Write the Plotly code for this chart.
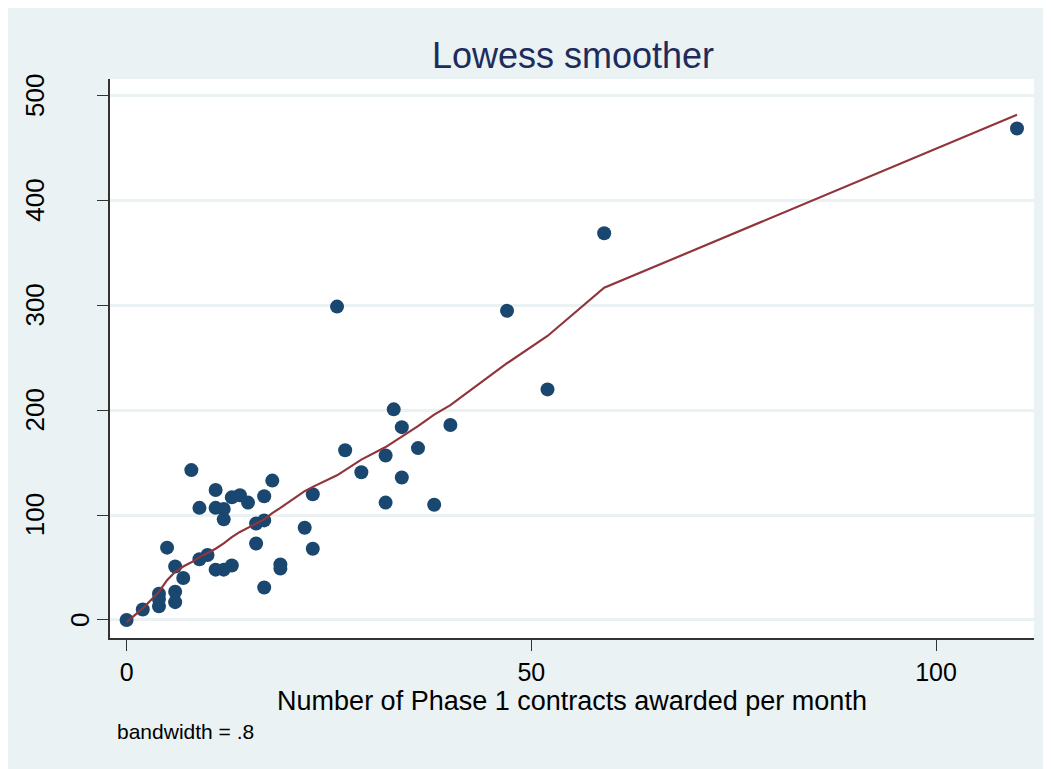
import plotly.graph_objects as go

# scatter points
contracts = [0, 2, 4, 4, 4, 5, 6, 6, 6, 7, 8, 9, 9, 10, 11, 11, 11, 12, 12, 12,
             13, 13, 14, 15, 16, 16, 17, 17, 17, 18, 19, 19, 22, 23, 23, 26, 27,
             29, 32, 32, 33, 34, 34, 36, 38, 40, 47, 52, 59, 110]
awards = [0, 10, 25, 20, 13, 69, 27, 17, 51, 40, 143, 107, 58, 62, 124, 107, 48,
          106, 96, 48, 117, 52, 119, 112, 92, 73, 118, 95, 31, 133, 53, 49, 88,
          120, 68, 299, 162, 141, 157, 112, 201, 184, 136, 164, 110, 186, 295,
          220, 369, 469]

# lowess curve (bandwidth .8) at each distinct x
smooth_x = [0, 2, 4, 5, 6, 7, 8, 9, 10, 11, 12, 13, 14, 15, 16, 17, 18, 19,
            22, 23, 26, 27, 29, 32, 33, 34, 36, 38, 40, 47, 52, 59, 110]
smooth_y = [-2, 11, 27, 38, 46, 51, 55, 60, 64, 68, 73, 79, 84, 88, 92, 96,
            102, 107, 123, 127, 138, 143, 153, 165, 170, 175, 185, 196, 205,
            245, 271, 317, 482]

x_ticks = [0, 50, 100]
y_ticks = [0, 100, 200, 300, 400, 500]
y_labels = ["0", "100", "200", "300", "400", "500"]

BG = "#eaf2f3"
FONT = "Liberation Sans, Arial, sans-serif"

fig = go.Figure()
fig.add_trace(go.Scatter(
    x=contracts, y=awards, mode="markers",
    marker=dict(color="#1a476f", size=14, line=dict(width=0)),
    name="points"
))
fig.add_trace(go.Scatter(
    x=smooth_x, y=smooth_y, mode="lines",
    line=dict(color="#90353b", width=2.2),
    name="lowess"
))

# Stata-style vertical y labels (short labels sit closer to the axis)
for v, lab in zip(y_ticks, y_labels):
    fig.add_annotation(
        text=lab, xref="paper", yref="y", x=0, y=v,
        xanchor="center", yanchor="middle", textangle=-90,
        xshift=-30 if len(lab) == 1 else -75,
        showarrow=False, font=dict(family=FONT, size=26, color="black")
    )

fig.add_annotation(
    text="bandwidth = .8", xref="paper", yref="paper",
    x=0.005, y=-0.168, xanchor="left", yanchor="middle",
    showarrow=False, font=dict(family=FONT, size=21, color="black")
)

fig.update_layout(
    width=1051, height=769,
    paper_bgcolor=BG, plot_bgcolor="white",
    margin=dict(l=102, r=25, t=71, b=139),
    showlegend=False,
    font=dict(family=FONT, color="black"),
    title=dict(text="Lowess smoother", x=0.5376, xanchor="center",
               y=0.939, yanchor="middle",
               font=dict(family=FONT, size=36, color="#1e2c5c")),
    xaxis=dict(
        range=[-2.05, 112.1], tickvals=x_ticks,
        showgrid=False, zeroline=False,
        showline=True, linecolor="#333333", linewidth=1.5,
        ticks="outside", ticklen=11, tickcolor="#333333", tickwidth=1.2,
        tickfont=dict(size=25),
        title=dict(text="Number of Phase 1 contracts awarded per month",
                   font=dict(size=27), standoff=0),
    ),
    yaxis=dict(
        range=[-17.2, 516.2], tickvals=y_ticks, showticklabels=False,
        showgrid=True, gridcolor=BG, gridwidth=2.5, zeroline=False,
        showline=True, linecolor="#333333", linewidth=1.5,
        ticks="outside", ticklen=11, tickcolor="#333333", tickwidth=1.2,
    ),
)

fig.write_html("out.html")
